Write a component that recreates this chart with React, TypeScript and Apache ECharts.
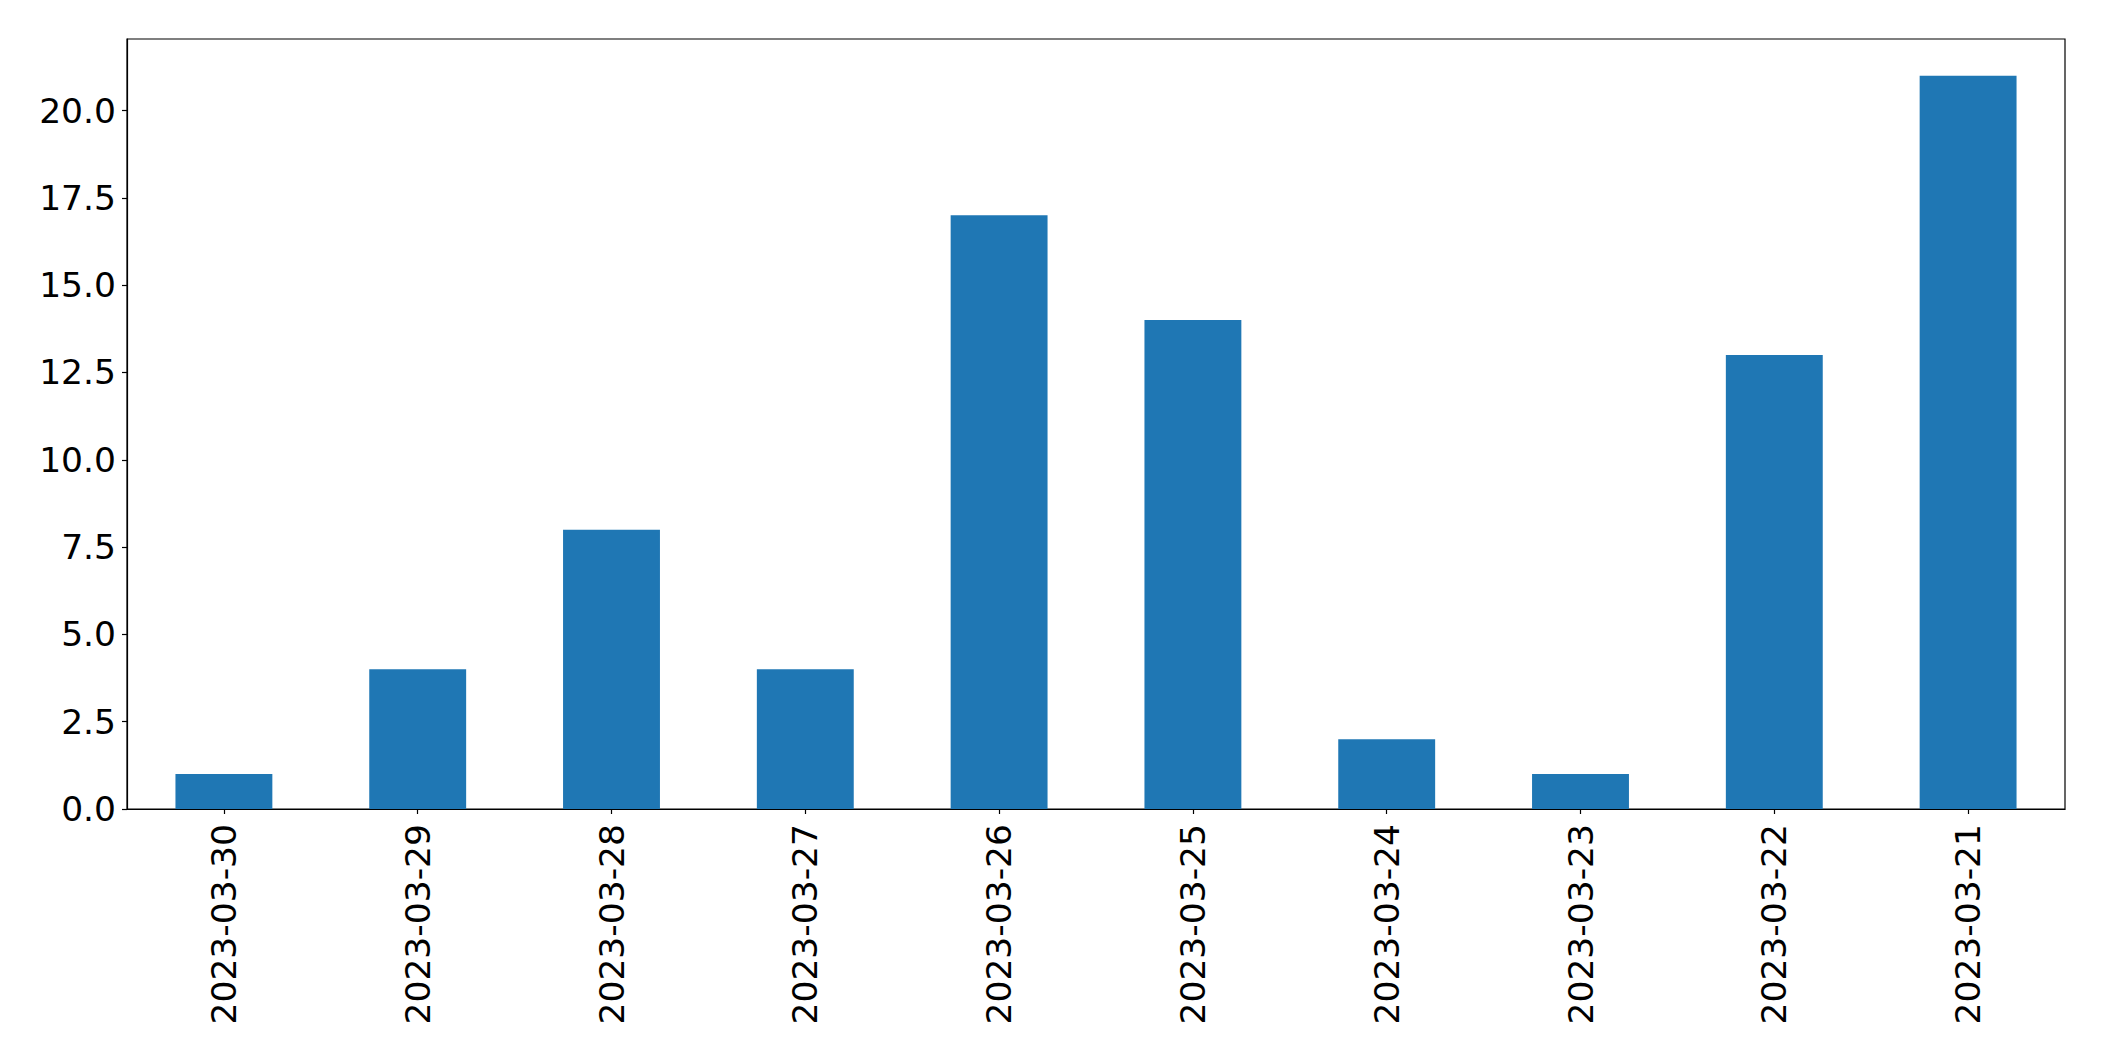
import React, { useEffect, useRef } from "react";
import * as echarts from "echarts";

const categories = [
  "2023-03-30",
  "2023-03-29",
  "2023-03-28",
  "2023-03-27",
  "2023-03-26",
  "2023-03-25",
  "2023-03-24",
  "2023-03-23",
  "2023-03-22",
  "2023-03-21",
];
const counts = [1, 4, 8, 4, 17, 14, 2, 1, 13, 21];
const yMax = 22.05;
const yInterval = 2.5;

export default function App() {
  const ref = useRef<HTMLDivElement>(null);
  useEffect(() => {
    if (!ref.current) return;
    const chart = echarts.init(ref.current, null, { renderer: "svg" });
    const font = "DejaVu Sans";
    chart.setOption({
      animation: false,
      backgroundColor: "#ffffff",
      grid: {
        left: 127,
        right: 39,
        top: 39,
        bottom: 252,
        show: true,
        borderColor: "#000000",
        borderWidth: 1.2,
        containLabel: false,
      },
      xAxis: {
        type: "category",
        data: categories,
        boundaryGap: true,
        axisLine: { show: true, lineStyle: { color: "#000000", width: 1.2 } },
        axisTick: { show: true, alignWithLabel: true, length: 5, lineStyle: { color: "#000000", width: 1.2 } },
        axisLabel: {
          rotate: 90,
          margin: 15,
          color: "#000000",
          fontFamily: font,
          fontSize: 34.5,
          interval: 0,
        },
        splitLine: { show: false },
      },
      yAxis: {
        type: "value",
        min: 0,
        max: yMax,
        interval: yInterval,
        axisLine: { show: true, lineStyle: { color: "#000000", width: 1.2 } },
        axisTick: { show: true, length: 5, lineStyle: { color: "#000000", width: 1.2 } },
        axisLabel: {
          margin: 11,
          color: "#000000",
          fontFamily: font,
          fontSize: 34.5,
          showMaxLabel: false,
          formatter: (v: number) => v.toFixed(1),
        },
        splitLine: { show: false },
      },
      series: [
        {
          type: "bar",
          data: counts,
          barWidth: "50%",
          itemStyle: { color: "#1f77b4" },
        },
      ],
    });
    return () => chart.dispose();
  }, []);
  return (
    <div
      ref={ref}
      style={{ position: "fixed", left: 0, top: 0, width: 2104, height: 1061, background: "#fff" }}
    />
  );
}
